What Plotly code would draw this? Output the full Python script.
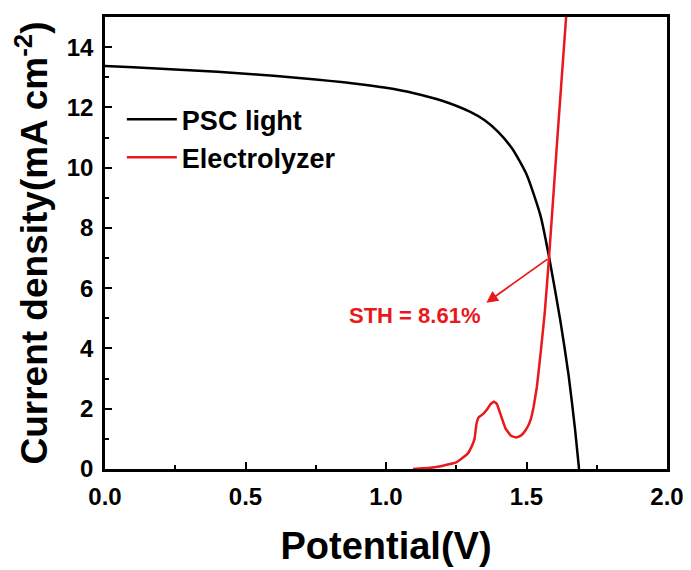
import plotly.graph_objects as go

# PSC J-V curve (light)
psc_v = [0, 0.1, 0.2, 0.3, 0.4, 0.5, 0.6, 0.7, 0.8, 0.9, 1.0, 1.1, 1.2, 1.3, 1.35,
         1.4, 1.45, 1.5, 1.55, 1.58, 1.62, 1.65, 1.673, 1.687]
psc_j = [13.37, 13.33, 13.28, 13.23, 13.18, 13.12, 13.05, 12.97, 12.88, 12.78, 12.65,
         12.47, 12.22, 11.85, 11.58, 11.18, 10.62, 9.78, 8.4, 7.05, 4.95, 3.1, 1.3, 0]

# Electrolyzer polarization curve
el_v = [1.096, 1.15, 1.19, 1.25, 1.29, 1.305, 1.315, 1.322, 1.33, 1.345, 1.36, 1.372,
        1.384, 1.395, 1.41, 1.425, 1.445, 1.46, 1.475, 1.49, 1.505, 1.515, 1.525,
        1.537, 1.552, 1.565, 1.58, 1.61, 1.641, 1.65]
el_j = [0, 0.03, 0.08, 0.22, 0.5, 0.75, 1.0, 1.5, 1.72, 1.82, 1.98, 2.15,
        2.24, 2.15, 1.75, 1.35, 1.1, 1.05, 1.08, 1.2, 1.42, 1.65, 2.05,
        2.73, 4.0, 5.2, 7.0, 11.0, 15.0, 16.2]

# crossing point and STH annotation
cross_v, cross_j = 1.58, 7.0
tip_v, tip_j = 1.357, 5.52
sth_text = "STH = 8.61%"
sth_v, sth_j = 1.103, 5.11

x_ticks = [0.0, 0.5, 1.0, 1.5, 2.0]
x_tick_text = ["0.0", "0.5", "1.0", "1.5", "2.0"]
y_ticks = [0, 2, 4, 6, 8, 10, 12, 14]

FONT = "Liberation Sans, Arial, sans-serif"

fig = go.Figure()
fig.add_trace(go.Scatter(x=psc_v, y=psc_j, mode="lines", name="PSC light",
                         line=dict(color="black", width=2.5, shape="spline", smoothing=0.6)))
fig.add_trace(go.Scatter(x=el_v, y=el_j, mode="lines", name="Electrolyzer",
                         line=dict(color="#e8191c", width=2.5, shape="spline", smoothing=0.2)))

fig.add_annotation(x=tip_v, y=tip_j, ax=cross_v, ay=cross_j, xref="x", yref="y",
                   axref="x", ayref="y", text="", showarrow=True, arrowhead=2,
                   arrowsize=1.3, arrowwidth=1.8, arrowcolor="#e8191c")
fig.add_annotation(x=sth_v, y=sth_j, xref="x", yref="y", text=sth_text, showarrow=False,
                   font=dict(family=FONT, size=22, color="#e8191c", weight="bold"))

axis_common = dict(showline=True, linecolor="black", linewidth=2.5, mirror=True,
                   ticks="inside", ticklen=7, tickwidth=2, tickcolor="black",
                   showgrid=False, zeroline=False, automargin=False, ticklabelstandoff=4,
                   tickfont=dict(family=FONT, size=24, color="black", weight="bold"))

fig.update_xaxes(range=[0, 2.0], tickvals=x_ticks, ticktext=x_tick_text,
                 minor=dict(ticks="inside", ticklen=4, tickwidth=2, dtick=0.25, tickcolor="black"),
                 title=dict(text="Potential(V)", standoff=24,
                            font=dict(family=FONT, size=38, color="black", weight="bold")),
                 **axis_common)
fig.update_yaxes(range=[0, 15], tickvals=y_ticks,
                 minor=dict(ticks="inside", ticklen=4, tickwidth=2, dtick=1, tickcolor="black"),
                 title=dict(text="Current density(mA cm<sup>-2</sup>)", standoff=8,
                            font=dict(family=FONT, size=37, color="black", weight="bold")),
                 **axis_common)

# page body has an 8px default margin; size the figure so it fits the window
fig.update_layout(width=683, height=562, plot_bgcolor="white", paper_bgcolor="white",
                  margin=dict(l=97, r=24, t=9, b=101),
                  legend=dict(x=0.03, y=0.827, xanchor="left", yanchor="top",
                              bgcolor="rgba(0,0,0,0)", itemwidth=50,
                              font=dict(family=FONT, size=27, color="black", weight="bold")),
                  showlegend=True)

fig.write_html("out.html")
